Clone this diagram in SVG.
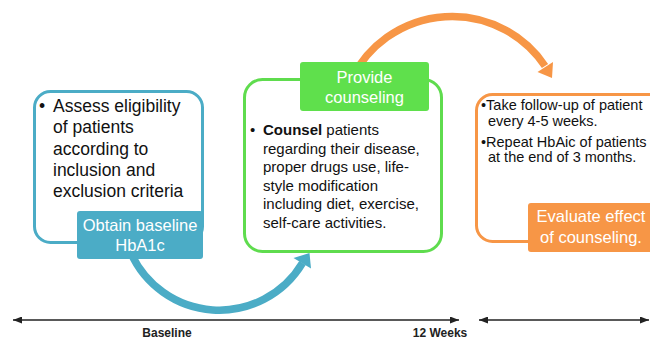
<svg xmlns="http://www.w3.org/2000/svg" width="650" height="340" viewBox="0 0 650 340">
  <style>
    text { font-family: "Liberation Sans", Arial, sans-serif; }
    .outline { fill: #ffffff; stroke-width: 3; }
    .label { fill: #ffffff; text-anchor: middle; font-size: 16.5px; }
    .body { fill: #111111; }
    .axis { stroke: #222222; stroke-width: 1.5; fill: none; }
    .axis-label { fill: #222222; font-size: 12px; font-weight: bold; text-anchor: middle; }
  </style>
  <defs>
    <marker id="axis-head" markerUnits="userSpaceOnUse" markerWidth="9" markerHeight="7" refX="9" refY="3.5" orient="auto-start-reverse">
      <path d="M0,0 L9,3.5 L0,7 Z" fill="#222222"/>
    </marker>
  </defs>

  <!-- curved step arrows -->
  <g id="connectors">
    <path d="M130,251 A97 97 0 0 0 302.5,263" fill="none" stroke="#4bacc6" stroke-width="7.5"/>
    <polygon points="309.5,253 311,268.5 293.5,258" fill="#4bacc6"/>
    <path d="M352,78 A112 112 0 0 1 545,66" fill="none" stroke="#f79646" stroke-width="7.5"/>
    <polygon points="552,78 553,62 537.5,72" fill="#f79646"/>
  </g>

  <!-- step 1: eligibility and baseline -->
  <g id="step-baseline">
    <rect class="outline" x="34.5" y="91.5" width="168" height="151" rx="16" stroke="#4bacc6"/>
    <g class="body" font-size="17.5px">
      <text x="39" y="112">•</text>
      <text x="53" y="112">Assess eligibility</text>
      <text x="53" y="133">of patients</text>
      <text x="53" y="154.5">according to</text>
      <text x="53" y="175.5">inclusion and</text>
      <text x="53" y="197">exclusion criteria</text>
    </g>
    <rect x="77" y="211" width="126" height="48" rx="3" fill="#4bacc6"/>
    <text class="label" x="140" y="231" font-size="16px">Obtain baseline</text>
    <text class="label" x="140" y="251" font-size="16px">HbA1c</text>
  </g>

  <!-- step 2: counseling -->
  <g id="step-counseling">
    <rect class="outline" x="244.5" y="79.5" width="197" height="172" rx="18" stroke="#5fdc4e"/>
    <rect x="300" y="62" width="129" height="49" rx="3" fill="#5fe04c"/>
    <text class="label" x="364.5" y="83">Provide</text>
    <text class="label" x="364.5" y="103">counseling</text>
    <g class="body" font-size="15px">
      <text x="250" y="135">•</text>
      <text x="263" y="135"><tspan font-weight="bold">Counsel</tspan> patients</text>
      <text x="263" y="153.5">regarding their disease,</text>
      <text x="263" y="172">proper drugs use, life-</text>
      <text x="263" y="190.5">style modification</text>
      <text x="263" y="209">including diet, exercise,</text>
      <text x="263" y="227.5">self-care activities.</text>
    </g>
  </g>

  <!-- step 3: follow-up and evaluation -->
  <g id="step-evaluation">
    <rect class="outline" x="476.5" y="94.5" width="200" height="147" rx="16" stroke="#f79646"/>
    <g class="body" font-size="14.5px">
      <text x="481" y="110">•Take follow-up of patient</text>
      <text x="488" y="126">every 4-5 weeks.</text>
      <text x="481" y="147">•Repeat HbAic of patients</text>
      <text x="488" y="162">at the end of 3 months.</text>
    </g>
    <rect x="528" y="203" width="130" height="49" rx="3" fill="#f79646"/>
    <text class="label" x="591" y="222">Evaluate effect</text>
    <text class="label" x="591" y="243">of counseling.</text>
  </g>

  <!-- time axis -->
  <g id="timeline">
    <line class="axis" x1="13" y1="320" x2="459" y2="320" marker-start="url(#axis-head)" marker-end="url(#axis-head)"/>
    <line class="axis" x1="479" y1="320" x2="649" y2="320" marker-start="url(#axis-head)" marker-end="url(#axis-head)"/>
    <text class="axis-label" x="167" y="337">Baseline</text>
    <text class="axis-label" x="440" y="337">12 Weeks</text>
  </g>
</svg>
